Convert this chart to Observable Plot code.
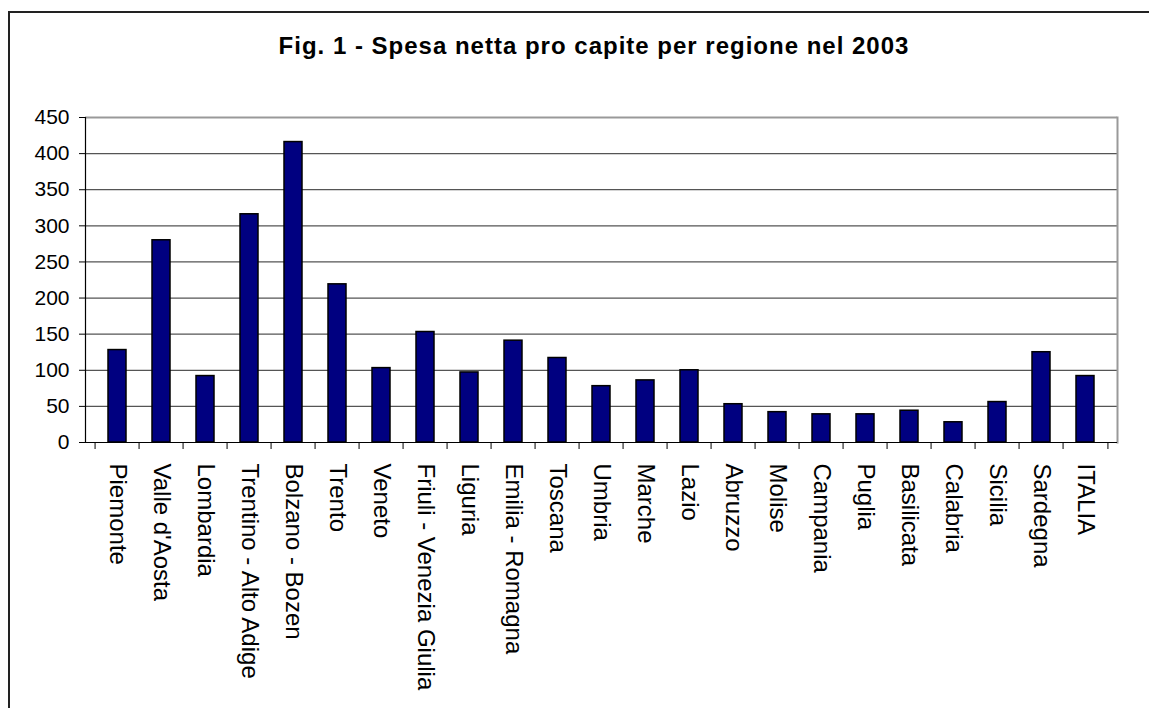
<!DOCTYPE html>
<html>
<head>
<meta charset="utf-8">
<script src="https://cdn.jsdelivr.net/npm/d3@7"></script>
<script src="https://cdn.jsdelivr.net/npm/@observablehq/plot@0.6"></script>
<style>
  html, body { margin: 0; padding: 0; background: white; overflow: hidden; }
  #box { position: absolute; left: 8px; top: 11px; width: 1200px; height: 760px; border: 2px solid #222;
         box-sizing: border-box; z-index: 5; pointer-events: none; background: transparent; }
  #title { position: absolute; left: 0; top: 31px; width: 1188px; text-align: center;
           font-family: "Liberation Sans", Arial, sans-serif; font-weight: bold; font-size: 24px;
           letter-spacing: 1px; line-height: 30px; color: black; }
  #chart { position: absolute; left: 0; top: 100px; }
</style>
</head>
<body>
<div id="title">Fig. 1 - Spesa netta pro capite per regione nel 2003</div>
<div id="chart"></div>
<div id="box"></div>
<script>
const regions = ["Piemonte", "Valle d'Aosta", "Lombardia", "Trentino - Alto Adige", "Bolzano - Bozen",
  "Trento", "Veneto", "Friuli - Venezia Giulia", "Liguria", "Emilia - Romagna", "Toscana", "Umbria",
  "Marche", "Lazio", "Abruzzo", "Molise", "Campania", "Puglia", "Basilicata", "Calabria", "Sicilia",
  "Sardegna", "ITALIA"];
const values = [128, 280, 92, 316, 416, 219, 103, 153, 97, 141, 117, 78, 86, 100, 53, 42, 39, 39, 44, 28, 56, 125, 92];
const yTicks = [0, 50, 100, 150, 200, 250, 300, 350, 400, 450];

const data = regions.map((r, i) => ({region: r, value: values[i]}));

const W = 1149, ML = 85, MR = 32;
const step = (W - ML - MR) / regions.length;

const chart = Plot.plot({
  width: W, height: 608,
  marginLeft: ML, marginRight: MR, marginTop: 17, marginBottom: 266,
  style: {fontFamily: "'Liberation Sans', Arial, sans-serif", fontSize: "24px", color: "black", background: "transparent"},
  x: {domain: regions, paddingInner: 0.58, paddingOuter: 0.29, label: null},
  y: {domain: [0, 450], label: null},
  marks: [
    Plot.gridY(yTicks.slice(1, -1), {stroke: "#555", strokeOpacity: 1, strokeWidth: 1.2}),
    Plot.ruleY([450], {stroke: "#999", strokeWidth: 2}),
    Plot.frame({anchor: "right", stroke: "#999", strokeWidth: 2}),
    Plot.barY(data, {x: "region", y: "value", fill: "#000080", stroke: "black", strokeWidth: 1.5}),
    Plot.ruleY([0], {stroke: "black", strokeWidth: 1.2}),
    Plot.frame({anchor: "left", stroke: "black", strokeWidth: 1.2}),
    Plot.axisY({ticks: yTicks, tickSize: 6, tickPadding: 10, fontSize: 21, label: null}),
    Plot.axisX({tickSize: 7, tickFormat: () => "", dx: -step / 2, label: null}),
    Plot.axisX({ticks: [regions[regions.length - 1]], tickSize: 7, tickFormat: () => "", dx: step / 2, label: null}),
    Plot.axisX({tickSize: 0, tickPadding: 21, tickRotate: 90, label: null})
  ]
});
document.getElementById("chart").appendChild(chart);
</script>
</body>
</html>
